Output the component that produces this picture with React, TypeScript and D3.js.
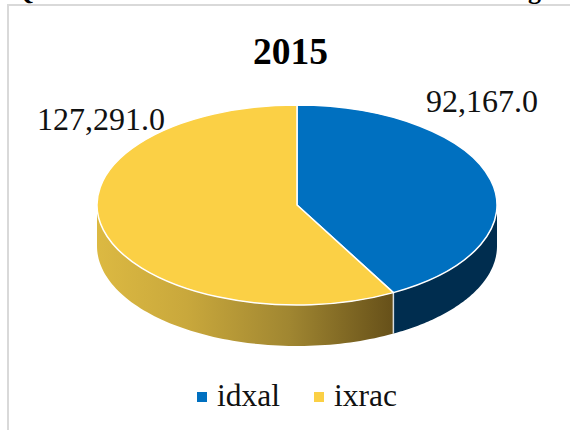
import React from "react";
import * as d3 from "d3";

const categories = ["idxal", "ixrac"];
const values = [92167.0, 127291.0];
const labels = ["92,167.0", "127,291.0"];
const colors = ["#0070c0", "#fbd045"];
const title = "2015";

const W = 570, H = 430;
const cx = 297, cy = 205, rx = 200, ry = 100, depth = 41;
const serif = "'Liberation Serif', serif";

const pie = d3.pie<number>().sort(null);
const arcs = pie(values);
const arcGen = d3.arc<d3.PieArcDatum<number>>().innerRadius(0).outerRadius(rx);
const px = d3.scaleLinear().domain([-1, 1]).range([cx - rx, cx + rx]);
const py = d3.scaleLinear().domain([-1, 1]).range([cy - ry, cy + ry]);

function wall(a0: number, a1: number) {
  const from = Math.max(a0, Math.PI / 2);
  const to = Math.min(a1, (3 * Math.PI) / 2);
  if (to <= from) return "";
  const angles = d3.range(0, 81).map((i) => from + ((to - from) * i) / 80);
  const top = angles.map((a) => [px(Math.sin(a)), py(-Math.cos(a))] as [number, number]);
  const bottom = top.map(([x, y]) => [x, y + depth] as [number, number]).reverse();
  return d3.line()([...top, ...bottom]) + "Z";
}

export default function App() {
  const yellowStart = px(Math.sin(arcs[1].startAngle));
  return (
    <svg width={W} height={H} style={{ position: "absolute", left: 0, top: 0, background: "#fff" }}>
      <defs>
        <linearGradient id="side" gradientUnits="userSpaceOnUse" x1={cx - rx} x2={yellowStart} y1={0} y2={0}>
          <stop offset="0" stopColor="#dcb942" />
          <stop offset="0.3" stopColor="#c9a83c" />
          <stop offset="0.65" stopColor="#a08631" />
          <stop offset="1" stopColor="#665019" />
        </linearGradient>
      </defs>
      <text x={15} y={0} fontFamily={serif} fontWeight="bold" fontSize={24} fill="#000">Q</text>
      <text x={528} y={-1} fontFamily={serif} fontWeight="bold" fontSize={26} fill="#000">g</text>
      <rect x={8} y={5} width={W + 20} height={H + 20} fill="#fff" stroke="#d9d9d9" strokeWidth={2} />
      <text x={290.5} y={64} textAnchor="middle" fontFamily={serif} fontWeight="bold" fontSize={37.5} fill="#000">{title}</text>

      <path d={wall(arcs[0].startAngle, arcs[0].endAngle)} fill="#002d4f" />
      <path d={wall(arcs[1].startAngle, arcs[1].endAngle)} fill="url(#side)" />
      <line x1={yellowStart} x2={yellowStart} y1={py(-Math.cos(arcs[1].startAngle))} y2={py(-Math.cos(arcs[1].startAngle)) + depth} stroke="#d8dde0" strokeWidth={1.5} />
      <g transform={`translate(${cx},${cy}) scale(1,${ry / rx})`}>
        {arcs.map((a, i) => (
          <path key={categories[i]} d={arcGen(a) ?? ""} fill={colors[i]} stroke="#fff" strokeWidth={1.5} vectorEffect="non-scaling-stroke" />
        ))}
      </g>

      <text x={538} y={112} textAnchor="end" fontFamily={serif} fontSize={32} fill="#111">{labels[0]}</text>
      <text x={37} y={130} fontFamily={serif} fontSize={32} fill="#111">{labels[1]}</text>

      {categories.map((c, i) => {
        const sx = [197, 314][i];
        return (
          <g key={c}>
            <rect x={sx} y={392} width={10} height={10} fill={colors[i]} />
            <text x={sx + 20} y={406} fontFamily={serif} fontSize={31.5} fill="#111">{c}</text>
          </g>
        );
      })}
    </svg>
  );
}
